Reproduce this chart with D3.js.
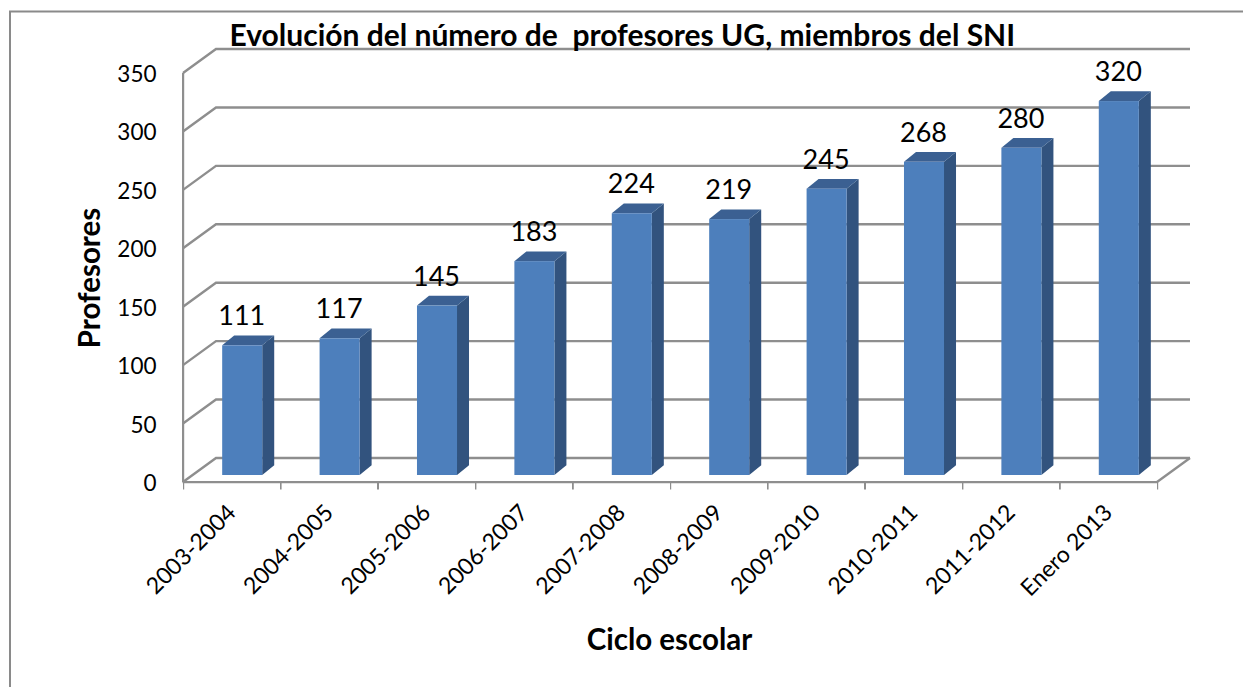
<!DOCTYPE html>
<html>
<head>
<meta charset="utf-8">
<script src="https://cdn.jsdelivr.net/npm/d3@7"></script>
<style>
html, body { margin: 0; padding: 0; background: #fff; }
svg { display: block; }
text { font-family: Lato, "Open Sans", sans-serif; fill: #000; }
</style>
</head>
<body>
<script>
const categories = ['2003-2004','2004-2005','2005-2006','2006-2007','2007-2008','2008-2009','2009-2010','2010-2011','2011-2012','Enero 2013'];
const profesores = [111,117,145,183,224,219,245,268,280,320];
const yTicks = [0,50,100,150,200,250,300,350];
const chartTitle = 'Evolución del número de  profesores UG, miembros del SNI';
const xAxisLabel = 'Ciclo escolar';
const yAxisLabel = 'Profesores';

const svgWid = 1243;
const svgHt = 687;
const svg = d3.select('body').append('svg').attr('width',svgWid).attr('height',svgHt);

svg.append('rect').attr('width',svgWid).attr('height',svgHt).attr('fill','#fff');

// outer frame, only top and left are in the picture
svg.append('path').attr('d',`M10,${svgHt}V11.5H${svgWid}`)
    .attr('fill','none').attr('stroke','#8a8a8a').attr('stroke-width',2);

const inner = {left:183,right:1157,top:73,bottom:482};
const wall = {dx:33,dy:-24};       // shift from the front of the floor to the back wall
const barOff = {dx:10.5,dy:-7};    // bars stand a bit behind the front edge
const barDepth = {dx:12,dy:-9.7};

const xScale = d3.scaleBand().domain(categories).range([inner.left,inner.right]).paddingInner(0.589).paddingOuter(0.2945);
const xTickScale = d3.scaleLinear().domain([0,categories.length]).range([inner.left,inner.right]);
const yScale = d3.scaleLinear().domain([0,350]).range([inner.bottom,inner.top]);

// userSpaceOnUse, straight lines have an empty bbox and vanish otherwise
const defs = svg.append('defs');
defs.append('filter').attr('id','soft').attr('filterUnits','userSpaceOnUse')
    .attr('x',0).attr('y',0).attr('width',svgWid).attr('height',svgHt)
    .append('feGaussianBlur').attr('stdDeviation',0.5);

const gridColor = '#8e8e8e';

// back wall grid + the slanted bit on the side wall
const gridG = svg.append('g').attr('filter','url(#soft)').attr('fill','none').attr('stroke',gridColor).attr('stroke-width',2.4);
gridG.selectAll('path').data(yTicks).enter().append('path')
    .attr('d', d => {
        const y = yScale(d);
        return `M${inner.left},${y}L${inner.left+wall.dx},${y+wall.dy}H${inner.right+wall.dx}`;
    });
gridG.append('path').attr('d',`M${inner.right},${inner.bottom}L${inner.right+wall.dx},${inner.bottom+wall.dy}`);

// axes (d3 adds its own half pixel, take it back)
const yAxis = d3.axisLeft(yScale).tickValues(yTicks).tickSize(8).tickSizeOuter(0).tickPadding(18);
const yAxisG = svg.append('g').attr('transform',`translate(${inner.left-0.5},-0.5)`).call(yAxis);
yAxisG.selectAll('text').attr('font-size','22.5px').attr('dy','0.4em');

const xAxis = d3.axisBottom(xTickScale).tickValues(d3.range(categories.length+1)).tickSize(8).tickSizeOuter(0).tickFormat('');
const xAxisG = svg.append('g').attr('transform',`translate(-0.5,${inner.bottom-0.5})`).call(xAxis);

svg.selectAll('.domain, .tick line').attr('stroke',gridColor).attr('stroke-width',2.4).attr('filter','url(#soft)');

// category labels
svg.append('g').selectAll('text').data(categories).enter().append('text')
    .text(d => d)
    .attr('text-anchor','end')
    .attr('font-size','23px')
    .attr('transform', d => `translate(${xScale(d)+xScale.bandwidth()/2+5.5},${inner.bottom+32}) rotate(-45)`);

// bars: front, side, top
const bars = svg.append('g').selectAll('g').data(profesores).enter().append('g')
    .attr('transform',(d,i) => `translate(${xScale(categories[i])+barOff.dx},${barOff.dy})`);
const barW = xScale.bandwidth();

bars.append('path')
    .attr('d',d => `M${barW},${yScale(d)}l${barDepth.dx},${barDepth.dy}V${yScale(0)+barDepth.dy}l${-barDepth.dx},${-barDepth.dy}Z`)
    .attr('fill','#30527e').attr('filter','url(#soft)');
bars.append('path')
    .attr('d',d => `M0,${yScale(d)}l${barDepth.dx},${barDepth.dy}h${barW}l${-barDepth.dx},${-barDepth.dy}Z`)
    .attr('fill','#3a6192').attr('filter','url(#soft)');
bars.append('rect')
    .attr('x',0).attr('y',d => yScale(d)).attr('width',barW).attr('height',d => yScale(0)-yScale(d))
    .attr('fill','#4e7fbc').attr('filter','url(#soft)');

// value labels
bars.append('text')
    .text(d => d)
    .attr('x',barW/2-0.5).attr('y',d => yScale(d)-20)
    .attr('text-anchor','middle')
    .attr('font-size','27px');

// titles
svg.append('text').text(chartTitle)
    .style('white-space','pre')
    .attr('x',229.5).attr('y',46)
    .attr('font-size','30px').attr('font-weight','bold');
svg.append('text').text(xAxisLabel)
    .attr('x',669.5).attr('y',650)
    .attr('text-anchor','middle')
    .attr('font-size','29.5px').attr('font-weight','bold');
svg.append('text').text(yAxisLabel)
    .attr('text-anchor','middle')
    .attr('transform','translate(100,278) rotate(-90)')
    .attr('font-size','29.5px').attr('font-weight','bold');
</script>
</body>
</html>
